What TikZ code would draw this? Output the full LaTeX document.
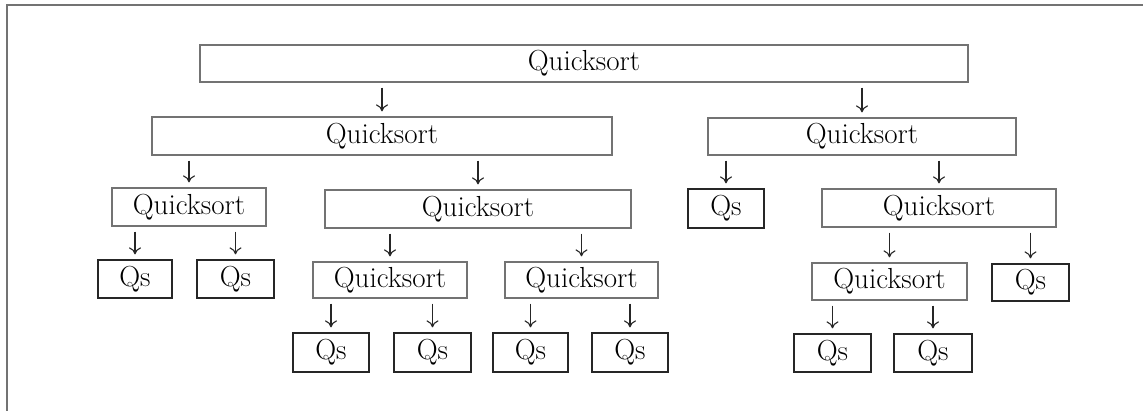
\documentclass[tikz,border=0pt]{standalone}
\usetikzlibrary{arrows.meta}
\begin{document}
\begin{tikzpicture}[x=1pt,y=-1pt,
  qsbase/.style={draw, rectangle, inner sep=0pt, line width=1.3pt,
    font=\fontsize{29}{31}\selectfont},
  qbox/.style={qsbase, draw=black!55},
  sbox/.style={qsbase, draw=black!85},
  arr/.style={-{To[length=7pt,width=12pt]}, line width=1.1pt, black!85},
  frame/.style={line width=1.4pt, black!55}]
\useasboundingbox (0,0) rectangle (1143,411);
\coordinate (fl) at (7,411);
\coordinate (fc) at (7,5);
\coordinate (fr) at (1143,5);
\draw[frame] (fl) -- (fc) -- (fr);

% level 1
\node[qbox, minimum width=768pt, minimum height=37pt] (T) at (584,63.5) {Quicksort};
% level 2
\node[qbox, minimum width=460pt, minimum height=38pt] (L) at (382,136) {Quicksort};
\node[qbox, minimum width=308pt, minimum height=37pt] (R) at (862,136.5) {Quicksort};
% level 3
\node[qbox, minimum width=154pt, minimum height=38pt] (A) at (189,207) {Quicksort};
\node[qbox, minimum width=306pt, minimum height=38pt] (B) at (478,209) {Quicksort};
\node[sbox, minimum width=76pt, minimum height=39pt] (S1) at (726,208.5) {Qs};
\node[qbox, minimum width=234pt, minimum height=38pt] (C) at (939,208) {Quicksort};
% level 4
\node[sbox, minimum width=74pt, minimum height=38pt] (A1) at (135,279) {Qs};
\node[sbox, minimum width=77pt, minimum height=38pt] (A2) at (235.5,279) {Qs};
\node[qbox, minimum width=154pt, minimum height=36pt] (E) at (390,280) {Quicksort};
\node[qbox, minimum width=153pt, minimum height=36pt] (F) at (581.5,280) {Quicksort};
\node[qbox, minimum width=155pt, minimum height=37pt] (D) at (889.5,281.5) {Quicksort};
\node[sbox, minimum width=77pt, minimum height=37pt] (S2) at (1030.5,282.5) {Qs};
% level 5
\node[sbox, minimum width=76pt, minimum height=39pt] (E1) at (331,352.5) {Qs};
\node[sbox, minimum width=77pt, minimum height=39pt] (E2) at (432.5,352.5) {Qs};
\node[sbox, minimum width=75pt, minimum height=39pt] (F1) at (530.5,352.5) {Qs};
\node[sbox, minimum width=76pt, minimum height=39pt] (F2) at (630,352.5) {Qs};
\node[sbox, minimum width=77pt, minimum height=38pt] (D1) at (832.5,353) {Qs};
\node[sbox, minimum width=78pt, minimum height=38pt] (D2) at (933,353) {Qs};

% connectors
\foreach \p/\c in {T/L, T/R, L/A, L/B, R/S1, R/C, A/A1, A/A2, B/E, B/F,
                   C/D, C/S2, E/E1, E/E2, F/F1, F/F2, D/D1, D/D2}{
  \draw[arr] ([yshift=-5pt]\c.north |- \p.south) -- ([yshift=5pt]\c.north);
}
\end{tikzpicture}
\end{document}
